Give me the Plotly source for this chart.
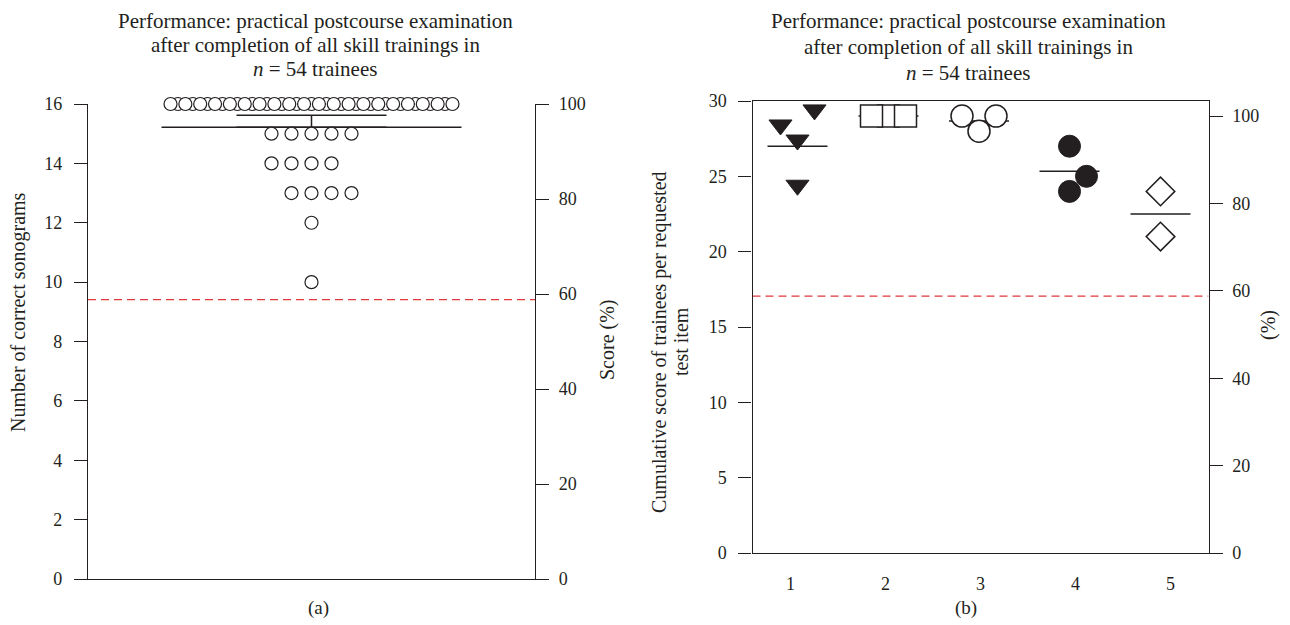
import numpy as np
import plotly.graph_objects as go

# ---------------- Data ----------------
# Panel (a): number of correct sonograms per trainee (n = 54)
sonogram_scores = [16, 15, 14, 13, 12, 10]
trainees_per_score = [39, 5, 4, 4, 1, 1]
mean_sonograms = 15.22
upper_bar_sonograms = 15.62
max_sonograms = 16
pass_threshold_pct = 58.8

# Panel (b): cumulative score of trainees per requested test item
test_items = [1, 2, 3, 4, 5]
item1_scores = [28, 27, 29, 24]
item2_scores = [29, 29, 29]
item3_scores = [29, 28, 29]
item4_scores = [27, 25, 24]
item5_scores = [24, 21]
max_item_score = 29

pct_ticks = [0, 20, 40, 60, 80, 100]
sonogram_ticks = [0, 2, 4, 6, 8, 10, 12, 14, 16]
item_score_ticks = [0, 5, 10, 15, 20, 25, 30]

title_lines = ["Performance: practical postcourse examination",
               "after completion of all skill trainings in",
               "<i>n</i> = 54 trainees"]
left_title_a = "Number of correct sonograms"
right_title_a = "Score (%)"
left_title_b = ["Cumulative score of trainees per requested", "test item"]
right_title_b = "(%)"
panel_labels = ["(a)", "(b)"]

# ---------------- Layout helpers ----------------
W, H = 1290, 625
X_SHIFT = -8           # compensates the page's default body offset
Y_SHIFT = -8
FONT = "Liberation Serif"
INK = "#231f20"
RED = "#e0393e"


def fx(p):
    return (p + X_SHIFT) / W


def fy(p):
    return 1 - (p + Y_SHIFT) / H


# panel geometry (pixels in the photographed page)
A_LEFT, A_RIGHT, A_TOP, A_BOT = 88, 535, 104, 579
B_LEFT, B_RIGHT, B_TOP, B_BOT = 752.5, 1208.5, 101, 553
A_HALF = (A_RIGHT - A_LEFT) / 2          # x axis of (a) measured in pixels
B_XRANGE = [0.6, 5.4]
B_PX_PER_UNIT = (B_RIGHT - B_LEFT) / (B_XRANGE[1] - B_XRANGE[0])
B_PX_PER_Y = (B_BOT - B_TOP) / 30

fig = go.Figure()

# ---------------- Panel (a) ----------------
row_start = {14: -40, 13: -20}
xs, ys, order_key = [], [], []
for score, n in zip(sonogram_scores, trainees_per_score):
    step = 7.42 if n > 10 else 20
    start = row_start.get(score, -(n - 1) * step / 2)
    for i in range(n):
        xs.append(start + i * step)
        ys.append(score)
        order_key.append(0 if (n > 10 and i % 2 == 1) else 1)
idx = sorted(range(len(xs)), key=lambda k: order_key[k])
xs = [xs[k] for k in idx]
ys = [ys[k] for k in idx]

fig.add_trace(go.Scatter(
    x=[-150, 150], y=[mean_sonograms, mean_sonograms], mode="lines",
    line=dict(color=INK, width=1.5), xaxis="x", yaxis="y",
    hoverinfo="skip", showlegend=False))
fig.add_trace(go.Scatter(
    x=[0], y=[mean_sonograms], mode="markers",
    marker=dict(size=1, color="rgba(0,0,0,0)"),
    error_y=dict(type="data", symmetric=False,
                 array=[upper_bar_sonograms - mean_sonograms], arrayminus=[0],
                 width=75, thickness=1.5, color=INK),
    xaxis="x", yaxis="y", showlegend=False, hoverinfo="skip"))
fig.add_trace(go.Scatter(
    x=xs, y=ys, mode="markers", cliponaxis=False,
    marker=dict(symbol="circle", size=13, color="white",
                line=dict(color=INK, width=1.2)),
    xaxis="x", yaxis="y", showlegend=False))
# pass threshold on the percentage axis
fig.add_trace(go.Scatter(
    x=[-A_HALF, A_HALF], y=[pass_threshold_pct, pass_threshold_pct], mode="lines",
    line=dict(color=RED, width=1.2, dash="8px,5px"), xaxis="x", yaxis="y2",
    showlegend=False, hoverinfo="skip"))

# ---------------- Panel (b) ----------------
groups = [item1_scores, item2_scores, item3_scores, item4_scores, item5_scores]
group_nudge_px = [7, 3, -1.5, -6, -10]
jitter_px = [[-17, 0, 17, 0], [-17, 0, 17], [-17, 0, 17], [0, 17, 0], [0, 0]]
draw_order = [[0, 1, 2, 3], [1, 0, 2], [0, 2, 1], [0, 1, 2], [0, 1]]
styles = [
    dict(symbol="triangle-down", size=20, color=INK, line=dict(color=INK, width=1)),
    dict(symbol="square", size=22, color="white", line=dict(color=INK, width=1.5)),
    dict(symbol="circle", size=22, color="white", line=dict(color=INK, width=1.5)),
    dict(symbol="circle", size=22, color=INK, line=dict(color=INK, width=1)),
    dict(symbol="diamond", size=22, color="white", line=dict(color=INK, width=1.5)),
]

# mean lines
mx, my = [], []
for item, vals, nudge in zip(test_items, groups, group_nudge_px):
    c = item + nudge / B_PX_PER_UNIT
    m = float(np.mean(vals))
    mx += [c - 30 / B_PX_PER_UNIT, c + 30 / B_PX_PER_UNIT, None]
    my += [m, m, None]
fig.add_trace(go.Scatter(x=mx, y=my, mode="lines", line=dict(color=INK, width=1.5),
                         xaxis="x2", yaxis="y3", showlegend=False, hoverinfo="skip"))

for item, vals, nudge, jit, order, st in zip(test_items, groups, group_nudge_px,
                                             jitter_px, draw_order, styles):
    # triangle-down markers are anchored above their box centre in plotly
    shift = 0.616 * st["size"] / 2 / B_PX_PER_Y if st["symbol"] == "triangle-down" else 0
    px = [item + (nudge + jit[k]) / B_PX_PER_UNIT for k in order]
    py = [vals[k] + shift for k in order]
    fig.add_trace(go.Scatter(
        x=px, y=py, mode="markers", cliponaxis=False,
        marker=dict(symbol=st["symbol"], size=st["size"], color=st["color"], line=st["line"]),
        xaxis="x2", yaxis="y3", showlegend=False))

fig.add_trace(go.Scatter(
    x=B_XRANGE, y=[pass_threshold_pct, pass_threshold_pct], mode="lines",
    line=dict(color=RED, width=1.2, dash="8px,5px"), xaxis="x2", yaxis="y4",
    showlegend=False, hoverinfo="skip"))

# ---------------- Axes ----------------
TICK_SIZE = 18
axis_common = dict(showgrid=False, zeroline=False, showline=True, linecolor=INK,
                   linewidth=1.3, tickcolor=INK, tickwidth=1.3, automargin=False,
                   tickfont=dict(family=FONT, size=TICK_SIZE, color=INK))

fig.update_layout(
    width=W, height=H, margin=dict(l=0, r=0, t=0, b=0, pad=0),
    paper_bgcolor="white", plot_bgcolor="white",
    font=dict(family=FONT, size=TICK_SIZE, color=INK),
    xaxis=dict(domain=[fx(A_LEFT), fx(A_RIGHT)], range=[-A_HALF, A_HALF],
               anchor="y", ticks="", showticklabels=False, **axis_common),
    yaxis=dict(domain=[fy(A_BOT), fy(A_TOP)], range=[0, max_sonograms], anchor="x",
               tickvals=sonogram_ticks, ticks="outside", ticklen=13,
               ticklabelstandoff=8, **axis_common),
    yaxis2=dict(overlaying="y", side="right", anchor="x", range=[0, 100],
                tickvals=pct_ticks, ticks="outside", ticklen=13,
                ticklabelstandoff=6, **axis_common),
    xaxis2=dict(domain=[fx(B_LEFT), fx(B_RIGHT)], range=B_XRANGE, anchor="y3",
                tickvals=test_items, ticks="", mirror=True, ticklabelstandoff=14,
                **axis_common),
    yaxis3=dict(domain=[fy(B_BOT), fy(B_TOP)], range=[0, 30], anchor="x2",
                tickvals=item_score_ticks, ticks="outside", ticklen=13,
                ticklabelstandoff=8, **axis_common),
    yaxis4=dict(overlaying="y3", side="right", anchor="x2",
                range=[0, 30 / max_item_score * 100],
                tickvals=pct_ticks, ticks="outside", ticklen=13,
                ticklabelstandoff=6, **axis_common),
)

# ---------------- Text ----------------
TITLE_SIZE = 21
AX_TITLE_SIZE = 20
ann = []
for cx, line_ys in [(315, [21, 45, 69]), (968, [21, 47, 73])]:
    for t, yy in zip(title_lines, line_ys):
        ann.append(dict(text=t, x=fx(cx), y=fy(yy), xref="paper", yref="paper",
                        showarrow=False, xanchor="center", yanchor="middle",
                        font=dict(family=FONT, size=TITLE_SIZE, color=INK)))


def vtitle(text, cx, cy):
    return dict(text=text, x=fx(cx), y=fy(cy), xref="paper", yref="paper",
                showarrow=False, textangle=-90, xanchor="center", yanchor="middle",
                font=dict(family=FONT, size=AX_TITLE_SIZE, color=INK))


ann.append(vtitle(left_title_a, 19, 312))
ann.append(vtitle(right_title_a, 607, 340))
ann.append(vtitle(left_title_b[0], 659, 342))
ann.append(vtitle(left_title_b[1], 681, 342))
ann.append(vtitle(right_title_b, 1268, 325))
for lab, cx in zip(panel_labels, [318, 966]):
    ann.append(dict(text=lab, x=fx(cx), y=fy(608), xref="paper", yref="paper",
                    showarrow=False, xanchor="center", yanchor="middle",
                    font=dict(family=FONT, size=19, color=INK)))
fig.update_layout(annotations=ann)

fig.write_html("out.html")
